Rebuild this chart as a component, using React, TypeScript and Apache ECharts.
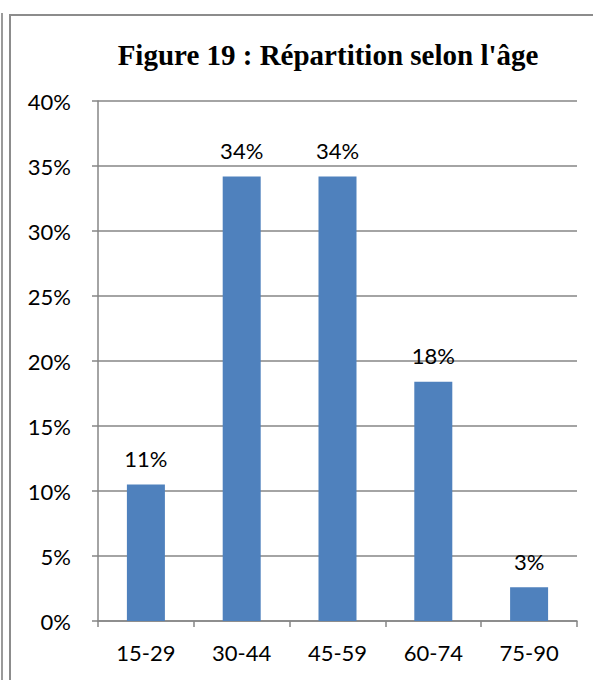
import React, { useEffect, useRef } from "react";
import * as echarts from "echarts";

const categories = ["15-29", "30-44", "45-59", "60-74", "75-90"];
const values = [10.5, 34.2, 34.2, 18.4, 2.6];
const titleText = "Figure 19 : Répartition selon l'âge";

export default function App() {
  const ref = useRef<HTMLDivElement>(null);
  useEffect(() => {
    const chart = echarts.init(ref.current!, null, { renderer: "svg" });
    const font = "Lato, 'Open Sans', sans-serif";
    chart.setOption({
      animation: false,
      backgroundColor: "#fff",
      title: {
        text: titleText,
        left: 323,
        textAlign: "center",
        top: 35,
        textStyle: {
          fontFamily: "'Liberation Serif', 'Times New Roman', serif",
          fontWeight: "bold",
          fontSize: 29,
          color: "#000",
        },
      },
      graphic: [
        { type: "line", shape: { x1: 2, y1: 13, x2: 2, y2: 680 }, style: { stroke: "#9a9a9a", lineWidth: 2 } },
        { type: "rect", shape: { x: 10, y: 15, width: 700, height: 700 }, style: { fill: "none", stroke: "#8c8c8c", lineWidth: 2 } },
      ],
      grid: { left: 98, right: 16, top: 101, bottom: 59 },
      xAxis: {
        type: "category",
        data: categories,
        axisLine: { lineStyle: { color: "#868686", width: 1.5 } },
        axisTick: { show: true, length: 6, lineStyle: { color: "#868686", width: 1.5 } },
        axisLabel: { color: "#000", fontFamily: font, fontSize: 22, margin: 20 },
      },
      yAxis: {
        type: "value",
        min: 0,
        max: 40,
        interval: 5,
        axisLine: { show: true, lineStyle: { color: "#868686", width: 1.5 } },
        axisTick: { show: true, length: 6, lineStyle: { color: "#868686", width: 1.5 } },
        splitLine: { lineStyle: { color: "#868686", width: 1.5 } },
        axisLabel: { color: "#000", fontFamily: font, fontSize: 22, margin: 27, formatter: "{value}%" },
      },
      series: [
        {
          type: "bar",
          data: values,
          barWidth: 38,
          itemStyle: { color: "#4F81BD" },
          label: {
            show: true,
            position: "top",
            distance: 15,
            color: "#000",
            fontFamily: font,
            fontSize: 22,
            formatter: (p: any) => Math.round(p.value) + "%",
          },
        },
      ],
    });
    return () => chart.dispose();
  }, []);
  return <div ref={ref} style={{ position: "fixed", left: 0, top: 0, width: 593, height: 680 }} />;
}
